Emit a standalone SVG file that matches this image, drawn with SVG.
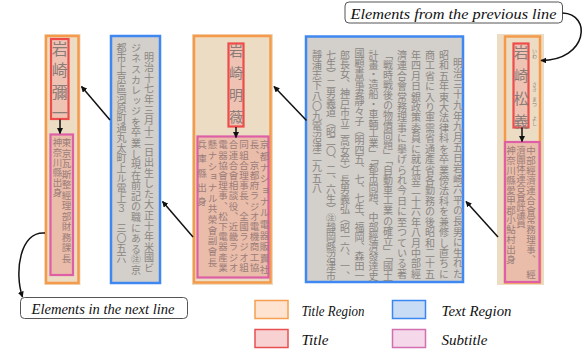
<svg xmlns="http://www.w3.org/2000/svg" width="584" height="353" viewBox="0 0 584 353">
<style>
.scanT{fill:#ecdcc4}
.treg{fill:none;stroke:#f59a4a;stroke-width:2.5}
.txreg{fill:#d3cfcb;stroke:#3f88f2;stroke-width:2.5}
.ttl{fill:#efc3b3;stroke:#ee4b4b;stroke-width:2.2}
.sub{fill:#e9bda9;stroke:#de5fa6;stroke-width:2.2}
.v{writing-mode:vertical-rl;font-family:"Noto Sans CJK JP","Noto Sans CJK SC",sans-serif}
.body{font-size:10px;fill:#8a8682}
.subt{font-size:9.5px;fill:#9b7c7a}
.tt{font-size:15px;fill:#8c7c78}
.furi{font-size:5px;fill:#8c7c78}
.conn path,.conn line{fill:none;stroke:#111;stroke-width:1.5}
.lbl{fill:#fff;stroke:#555;stroke-width:1}
.lt{font-family:"Liberation Serif","DejaVu Serif",serif;font-style:italic;fill:#111}
</style>
<defs>
<marker id="ah" viewBox="0 0 10 10" refX="9" refY="5" markerWidth="6" markerHeight="6" orient="auto" markerUnits="userSpaceOnUse">
<path d="M0,0 L10,5 L0,10 z" fill="#111"/>
</marker>
</defs>

<!-- Column A: title region -->
<g id="titleRegionA">
<rect x="44.5" y="34" width="36" height="251" class="scanT"/>
<rect x="46" y="36" width="32.5" height="247" class="treg"/>
</g>
<g id="subtitleA">
<rect x="50.5" y="134.5" width="22.5" height="140.5" class="sub"/>
<text class="v subt" x="66.5" y="138" textLength="125" lengthAdjust="spacing">東京瓦斯整經理部財務課長</text>
<text class="v subt" x="57.5" y="138" textLength="59" lengthAdjust="spacing">神奈川縣出身</text>
</g>
<g id="titleA">
<rect x="51" y="39" width="17.5" height="80" class="ttl"/>
<text class="v tt" x="59.8" y="41" textLength="80" lengthAdjust="spacing" style="font-size:16px">岩崎彌一</text>
</g>

<!-- Column A: text region -->
<g id="textRegionA">
<rect x="111" y="36" width="49" height="247" class="txreg"/>
<text class="v body" x="149" y="52" textLength="221" lengthAdjust="spacing">明治十七年三月十二日出生した大正十年米國ビ</text>
<text class="v body" x="136" y="43" textLength="232" lengthAdjust="spacing">ジネスカレッジを卒業し現在前記の職にある㊟京</text>
<text class="v body" x="121.5" y="43" textLength="220" lengthAdjust="spacing">都市上京區河原町通丸太町上ル電上３　三〇五六</text>
</g>

<!-- Column B: title region -->
<g id="titleRegionB">
<rect x="192" y="34" width="81" height="251" class="scanT"/>
<rect x="194" y="36" width="76.5" height="246.5" class="treg"/>
</g>
<g id="subtitleB">
<rect x="197.5" y="136.5" width="71" height="141" class="sub"/>
<text class="v subt" x="264.5" y="140" textLength="134" lengthAdjust="spacing">京都ナショナル電器販賣社</text>
<text class="v subt" x="254.5" y="140" textLength="132" lengthAdjust="spacing">長、京都府ラジオ電機商工協</text>
<text class="v subt" x="244" y="140" textLength="132" lengthAdjust="spacing">同組合理事長、全國ラジオ組</text>
<text class="v subt" x="233.5" y="140" textLength="132" lengthAdjust="spacing">合連合會相談役、近畿ラジオ</text>
<text class="v subt" x="223" y="140" textLength="132" lengthAdjust="spacing">電器協會理事、松下電器產業</text>
<text class="v subt" x="212.5" y="140" textLength="127" lengthAdjust="spacing">懸ナショナル共榮會副會長</text>
<text class="v subt" x="202" y="140" textLength="66" lengthAdjust="spacing">兵庫縣出身</text>
</g>
<g id="titleB">
<rect x="228.5" y="43.5" width="15" height="83" class="ttl"/>
<text class="v tt" x="236" y="44" textLength="80" lengthAdjust="spacing" style="font-size:14px">岩崎明薇</text>
</g>

<!-- Column B: text region -->
<g id="textRegionB">
<rect x="306" y="36.5" width="157" height="245.5" class="txreg"/>
<text class="v body" x="458" y="58" textLength="221" lengthAdjust="spacing">明治三十九年九月五日岩崎六平の長男に生れた</text>
<text class="v body" x="444" y="50" textLength="229" lengthAdjust="spacing">昭和五年東大法律科を卒業傍法科を兼修し直ちに</text>
<text class="v body" x="430" y="50" textLength="229" lengthAdjust="spacing">商工省に入り軍需省通產省各勤務の後昭和二十五</text>
<text class="v body" x="416" y="50" textLength="229" lengthAdjust="spacing">年四月日銀政策委員に就任翌二十六年八月中部經</text>
<text class="v body" x="402" y="50" textLength="229" lengthAdjust="spacing">濟連合會常務理事に擧げられ今日に至つている著</text>
<text class="v body" x="388" y="50" textLength="231" lengthAdjust="spacing">「戰時戰後の物價問題」「自動車工業の確立」「國土</text>
<text class="v body" x="373.5" y="50" textLength="231" lengthAdjust="spacing">計畫・造船・車輌工業」「都市問題、中部經濟發達史</text>
<text class="v body" x="359.5" y="48" textLength="233" lengthAdjust="spacing">國顧書電妻靜々子（明四五、七、七生、福岡、森田一</text>
<text class="v body" x="345" y="50" textLength="231" lengthAdjust="spacing">郎長女、神戸市立二高女卒）長男義弘（昭一六、一、</text>
<text class="v body" x="331" y="50" textLength="231" lengthAdjust="spacing">七生）二男義道（昭二〇、二、六生）㊟靜岡縣沼津市</text>
<text class="v body" x="317" y="50" textLength="143" lengthAdjust="spacing">靜浦志下八〇九電沼津二九五八</text>
</g>

<!-- Column C: title region -->
<g id="titleRegionC">
<rect x="497" y="34" width="47" height="251" class="scanT"/>
<rect x="505" y="36.5" width="35" height="246" class="treg"/>
<text class="v furi" x="534.5" y="49">いわ</text>
<text class="v furi" x="534.5" y="82">さき</text>
<text class="v furi" x="534.5" y="97">まつ</text>
<text class="v furi" x="534.5" y="116">よし</text>
</g>
<g id="subtitleC">
<rect x="505" y="142" width="34.5" height="140" class="sub"/>
<text class="v subt" x="531" y="146" textLength="133" lengthAdjust="spacing">中部經濟連合會常務理事、　經</text>
<text class="v subt" x="521" y="146" textLength="82" lengthAdjust="spacing">濟團体連合會評議員</text>
<text class="v subt" x="511" y="146" textLength="118" lengthAdjust="spacing">神奈川縣愛甲郡小鮎村出身</text>
</g>
<g id="titleC">
<rect x="513.5" y="43.5" width="15" height="84" class="ttl"/>
<text class="v tt" x="521" y="45" textLength="84" lengthAdjust="spacing">岩崎松義</text>
</g>

<!-- Labels -->
<g id="labelPrev">
<rect x="345" y="2" width="217.5" height="21" rx="4" class="lbl"/>
<text class="lt" x="350.5" y="18.5" font-size="15.5" textLength="206" lengthAdjust="spacingAndGlyphs">Elements from the previous line</text>
</g>
<g id="labelNext">
<rect x="20.5" y="297.5" width="167" height="21" rx="4" class="lbl"/>
<text class="lt" x="31.5" y="313.8" font-size="15.5" textLength="143" lengthAdjust="spacingAndGlyphs">Elements in the next line</text>
</g>

<!-- Connectors -->
<g id="connectors" class="conn">
<line x1="60" y1="119.5" x2="60" y2="133.5" marker-end="url(#ah)"/>
<line x1="110" y1="120" x2="81.5" y2="86.5" marker-end="url(#ah)"/>
<line x1="193" y1="237" x2="162.5" y2="201.5" marker-end="url(#ah)"/>
<line x1="236" y1="127" x2="236" y2="137.5" marker-end="url(#ah)"/>
<line x1="306.5" y1="120.5" x2="274" y2="86.5" marker-end="url(#ah)"/>
<line x1="498" y1="237" x2="466" y2="201.5" marker-end="url(#ah)"/>
<line x1="522" y1="127.5" x2="522" y2="141.5" marker-end="url(#ah)"/>
<path d="M562.5,13 C592,14 588,60 541,60.5" marker-end="url(#ah)"/>
<path d="M45,233 C20,231 14,272 22.5,297" marker-end="url(#ah)"/>
</g>

<!-- Legend -->
<g id="legend">
<rect x="255" y="300.5" width="33" height="18" fill="#fde3d0" stroke="#f5a050" stroke-width="1.5"/>
<text class="lt" x="301.5" y="315.5" font-size="14.5" textLength="63" lengthAdjust="spacingAndGlyphs">Title Region</text>
<rect x="392.5" y="300.5" width="33" height="18" fill="#c9dcf6" stroke="#3b86f0" stroke-width="1.5"/>
<text class="lt" x="441.5" y="315.5" font-size="14.5" textLength="70" lengthAdjust="spacingAndGlyphs">Text Region</text>
<rect x="255" y="329.5" width="33" height="18" fill="#f8d2d2" stroke="#e85050" stroke-width="1.5"/>
<text class="lt" x="301.5" y="344.5" font-size="14.5" textLength="27" lengthAdjust="spacingAndGlyphs">Title</text>
<rect x="392.5" y="329.5" width="33" height="18" fill="#f5d8ea" stroke="#d070b0" stroke-width="1.5"/>
<text class="lt" x="441.5" y="344.5" font-size="14.5" textLength="46" lengthAdjust="spacingAndGlyphs">Subtitle</text>
</g>
</svg>
